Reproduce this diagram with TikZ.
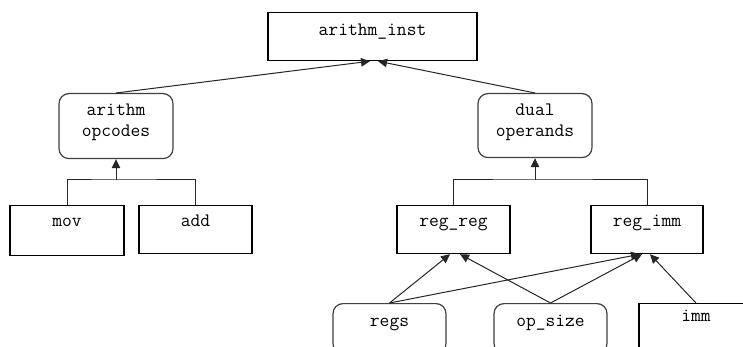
\documentclass[tikz,border=0pt]{standalone}
\usepackage{fontspec}
\usetikzlibrary{arrows.meta}
\tikzset{
  lbl/.style={font=\ttfamily\fontsize{19}{21}\selectfont, align=center, inner xsep=0pt, inner ysep=0pt},
  sqbox/.style={lbl, draw=black, line width=1.2pt, fill=white, rectangle},
  rndbox/.style={lbl, draw=black!75, line width=1.2pt, fill=white, rectangle, rounded corners=10pt},
  link/.style={draw=black!85, line width=1pt},
  arr/.style={link, -{Triangle[length=9pt,width=8.5pt]}}
}
\begin{document}
\begin{tikzpicture}[x=1pt,y=-1pt]
  \fill[white] (0,0) rectangle (743,347);
  \clip (0,0) rectangle (743,347);

  % root
  \node[sqbox, anchor=north, minimum width=209pt, text height=23pt, text depth=25pt] (top) at (372.5,12) {arithm\_inst};

  % second level (two-line labels: text height reaches the last baseline)
  \node[rndbox, anchor=north, minimum width=114pt, text height=43pt, text depth=22pt] (aop) at (116,93) {arithm\\opcodes};
  \node[rndbox, anchor=north, minimum width=114pt, text height=43pt, text depth=21pt] (dop) at (535,93) {dual\\operands};

  % third level
  \node[sqbox, anchor=north, minimum width=114pt, text height=21pt, text depth=29pt] (mov) at (67,205) {mov};
  \node[sqbox, anchor=north, minimum width=113pt, text height=21pt, text depth=27pt] (add) at (195.5,205) {add};
  \node[sqbox, anchor=north, minimum width=113pt, text height=21pt, text depth=27pt] (rr) at (453.5,205) {reg\_reg};
  \node[sqbox, anchor=north, minimum width=112pt, text height=21pt, text depth=27pt] (ri) at (647,205) {reg\_imm};

  % operand kinds
  \node[rndbox, anchor=north, minimum width=113pt, text height=23pt, text depth=27pt] (regs) at (389.5,303) {regs};
  \node[rndbox, anchor=north, minimum width=113pt, text height=23pt, text depth=27pt] (ops) at (550.5,303) {op\_size};
  \node[sqbox, anchor=north, minimum width=114pt, text height=18pt, text depth=32pt] (imm) at (696,303) {imm};

  % links to the root
  \draw[arr] (aop.north) -- ([xshift=-2.5pt]top.south);
  \draw[arr] (dop.north) -- ([xshift=5.5pt]top.south);

  % opcode tree
  \coordinate (jl) at (116,180);
  \draw[link] (mov.north) |- (jl) -| (add.north);
  \draw[arr] (jl) -- (aop.south);

  % operand tree
  \coordinate (jr) at (535,180);
  \draw[link] (rr.north) |- (jr) -| (ri.north);
  \draw[arr] (jr) -- (dop.south);

  % operand kinds to forms
  \draw[arr] (regs.north) -- ([xshift=-3.5pt]rr.south);
  \draw[arr] (regs.north) -- ([xshift=-7pt]ri.south);
  \draw[arr] (ops.north) -- ([xshift=6.5pt]rr.south);
  \draw[arr] (ops.north) -- ([xshift=-5pt]ri.south);
  \draw[arr] (imm.north) -- ([xshift=3pt]ri.south);
\end{tikzpicture}
\end{document}
